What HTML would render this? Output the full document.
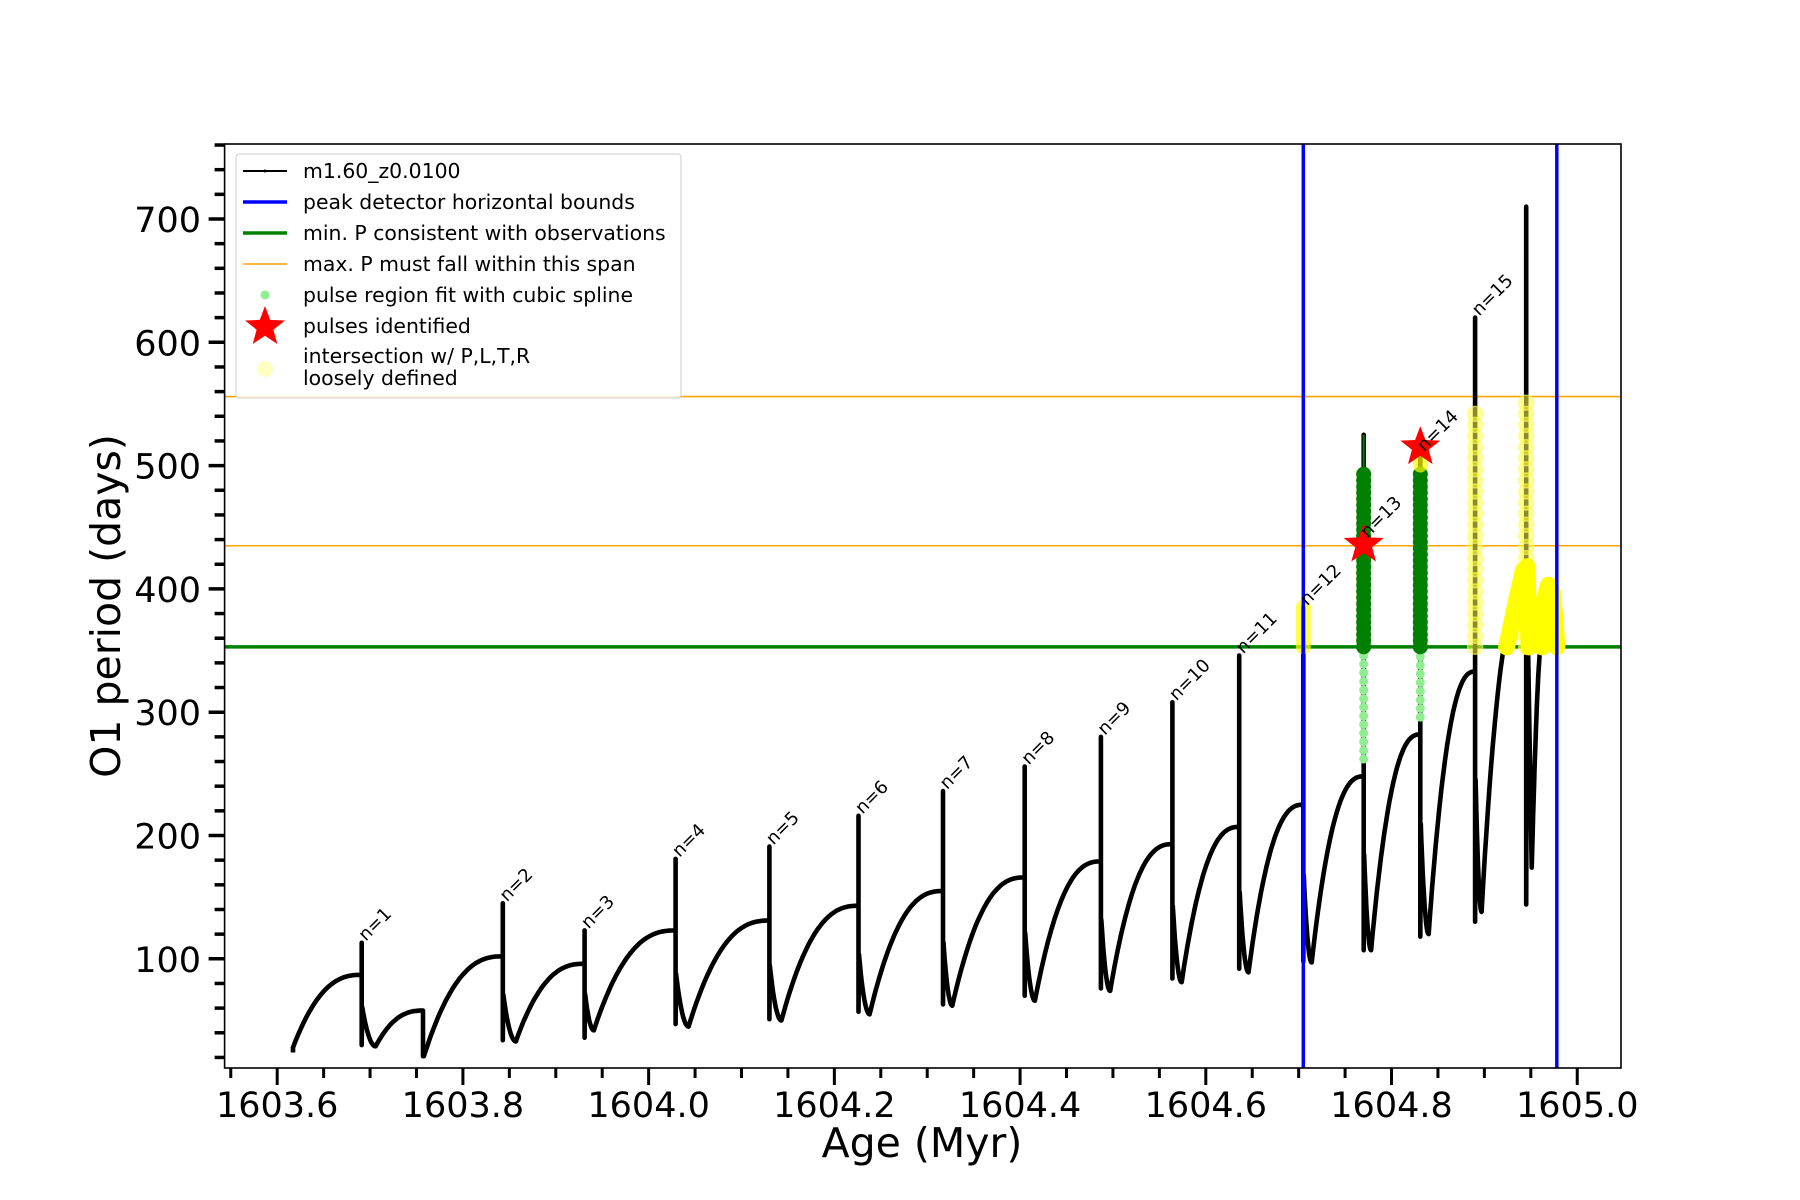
<!DOCTYPE html>
<html><head><meta charset="utf-8"><style>
html,body{margin:0;padding:0;background:#fff;}
svg{display:block;font-family:"DejaVu Sans","Liberation Sans",sans-serif;}
</style></head><body>
<svg id="chart" width="1800" height="1200" viewBox="0 0 1800 1200" xmlns="http://www.w3.org/2000/svg">
<rect x="0" y="0" width="1800" height="1200" fill="#fff"/>
<g id="plot"></g>
</svg>
<script>
// ---- data ----
const spikeAge = [1603.691,1603.757,1603.843,1603.931,1604.029,1604.130,1604.226,1604.317,1604.405,1604.487,1604.564,1604.636,1604.705,1604.770,1604.831,1604.890,1604.945];
const preP  = [87,58,102,96,123,131,143,155,166,179,193,207,225,248,282,333,400];
const peakP = [113,58,145,123,181,191,216,236,256,280,308,346,385,525,510,620,710];
const dropP = [30,21,34,36,47,51,57,63,70,76,84,92,98,107,118,130,144];
const minAge = [1603.706,1603.758,1603.857,1603.941,1604.043,1604.143,1604.238,1604.327,1604.416,1604.497,1604.574,1604.646,1604.714,1604.778,1604.840,1604.897,1604.951];
const minP  = [29,21,33,42,45,50,55,62,66,74,81,89,97,107,120,138,174];
const labelP = [113,58,145,123,181,191,216,236,256,280,308,346,385,440,510,620,710];
const startAge = 1603.617, startP = 28;
const endAge = 1604.961, endP = 355;
const pulseLabels = ["n=1","","n=2","n=3","n=4","n=5","n=6","n=7","n=8","n=9","n=10","n=11","n=12","n=13","n=14","n=15",""];
const boundAges = [1604.705,1604.978];
const minObsP = 353;
const maxSpanP = [435,556];
const starAge = [1604.770,1604.831];
const starP = [436,515];
const arc1Age = [1604.924,1604.935,1604.942,1604.946,1604.948];
const arc1P = [353,392,415,418,353];
const arc2Age = [1604.962,1604.965,1604.969,1604.973,1604.976,1604.978];
const arc2P = [353,392,403,398,375,353];
const greenPulseIdx = [13,14];
const greenTopP = [497,497];
const lightGreenBottomP = [262,296];
const yellowPulseIdx = [15,16];
const yellowTopP = [545,558];
const xTicks = ["1603.6","1603.8","1604.0","1604.2","1604.4","1604.6","1604.8","1605.0"];
const yTicks = ["100","200","300","400","500","600","700"];

// ---- axes ----
const L=224.6,R=1621,T=144,B=1068;
const X=v=>277.2+(v-1603.6)*928.6;
const Y=p=>219+(700-p)*1.233;
const NS="http://www.w3.org/2000/svg";
const plot=document.getElementById('plot');
function mk(tag,attrs,parent){const e=document.createElementNS(NS,tag);for(const k in attrs)e.setAttribute(k,attrs[k]);(parent||plot).appendChild(e);return e;}

const clip=mk('clipPath',{id:'clip'});mk('rect',{x:L,y:T,width:R-L,height:B-T},clip);
const data=mk('g',{'clip-path':'url(#clip)'});



maxSpanP.forEach(p=>{const l=mk('line',{x1:L,x2:R,y1:Y(p),y2:Y(p),stroke:'#ffa500','stroke-width':1.6},data);

});
const gl=mk('line',{x1:L,x2:R,y1:Y(minObsP),y2:Y(minObsP),stroke:'#008000','stroke-width':3.5},data);



// black curve
let pts=[[startAge,startP-4],[startAge,startP]];
let prevMinAge=startAge, prevMinP=startP;
for(let i=0;i<spikeAge.length;i++){
  const a0=prevMinAge,a1=spikeAge[i],p0=prevMinP,p1=preP[i];
  const N=40;
  for(let k=1;k<=N;k++){const t=k/N;pts.push([a0+(a1-a0)*t,p0+(p1-p0)*(1-Math.pow(1-t,2.5))]);}
  pts.push([a1,peakP[i]]);pts.push([a1,dropP[i]]);
  if(i===16){pts.push([a1+0.001,400]);pts.push([minAge[i],minP[i]]);}
  else if(i===1){pts.push([minAge[i],minP[i]]);}
  else{
    const postP=minP[i]+(preP[i]-minP[i])*0.55;
    pts.push([a1+0.0005,postP]);
    const M=12;const da=minAge[i]-a1-0.0005;
    for(let k=1;k<=M;k++){const t=k/M;pts.push([a1+0.0005+da*t,postP+(minP[i]-postP)*(1-Math.pow(1-t,2))]);}
  }
  prevMinAge=minAge[i];prevMinP=minP[i];
}
{const a0=prevMinAge,p0=prevMinP;const N=20;for(let k=1;k<=N;k++){const t=k/N;pts.push([a0+(endAge-a0)*t,p0+(endP-p0)*(1-Math.pow(1-t,1.6))]);}}
const curve=mk('polyline',{points:pts.map(q=>X(q[0]).toFixed(1)+','+Y(q[1]).toFixed(1)).join(' '),fill:'none',stroke:'#000','stroke-width':4.6,'stroke-linejoin':'round'},data);



const y12=mk('line',{x1:X(spikeAge[12]),x2:X(spikeAge[12]),y1:Y(minObsP),y2:Y(peakP[12]),stroke:'#ffff00','stroke-opacity':0.7,'stroke-width':15,'stroke-linecap':'round'},data);



yellowPulseIdx.forEach((idx,j)=>{
  for(let p=minObsP;p<=yellowTopP[j];p+=9){const c=mk('circle',{cx:X(spikeAge[idx]),cy:Y(p),r:7.5,fill:'#ffff44','fill-opacity':0.55,stroke:'#ffff66','stroke-opacity':0.6,'stroke-width':1.5},data);
  
  }
});
greenPulseIdx.forEach((idx,j)=>{
  const a=spikeAge[idx];
  if(j===0){const tl=mk('line',{x1:X(a),x2:X(a),y1:Y(minObsP),y2:Y(peakP[idx]),stroke:'#008000','stroke-width':2},data);
  
  }
  for(let p=lightGreenBottomP[j];p<minObsP;p+=7){const c=mk('circle',{cx:X(a),cy:Y(p),r:4.5,fill:'#90ee90'},data);
  
  }
  for(let p=minObsP;p<=greenTopP[j];p+=5){const c=mk('circle',{cx:X(a),cy:Y(p),r:7.5,fill:'#008000'},data);
  
  }
});
const ytop=mk('line',{x1:X(spikeAge[14]),x2:X(spikeAge[14]),y1:Y(greenTopP[1]+3),y2:Y(peakP[14]),stroke:'#ffff00','stroke-opacity':0.7,'stroke-width':14,'stroke-linecap':'round'},data);


[[arc1Age,arc1P],[arc2Age,arc2P]].forEach(([ag,pp])=>{
  const pl=mk('polyline',{points:ag.map((a,i)=>X(a).toFixed(1)+','+Y(pp[i]).toFixed(1)).join(' '),fill:'none',stroke:'#ffff00','stroke-width':17,'stroke-linejoin':'round','stroke-linecap':'round'},data);
  
  
});
function starPath(cx,cy,r){let d='';for(let i=0;i<10;i++){const rr=i%2?r*0.42:r;const a=-Math.PI/2+i*Math.PI/5;d+=(i?'L':'M')+(cx+rr*Math.cos(a)).toFixed(1)+','+(cy+rr*Math.sin(a)).toFixed(1);}return d+'Z';}
starAge.forEach((a,i)=>{const s=mk('path',{d:starPath(X(a),Y(starP[i]),21),fill:'#ff0000'},data);

});
boundAges.forEach(a=>{const l=mk('line',{x1:X(a),x2:X(a),y1:T,y2:B,stroke:'#0000ff','stroke-width':3.5},data);

});
pulseLabels.forEach((t,i)=>{if(!t)return;const x=X(spikeAge[i])+4,y=Y(labelP[i])-1;
const e=mk('text',{x:x,y:y,'font-size':18,fill:'#000',transform:`rotate(-45 ${x} ${y})`});e.textContent=t;

});

const fr=mk('rect',{x:L,y:T,width:R-L,height:B-T,fill:'none',stroke:'#000','stroke-width':1.6});



for(let k=0;k<=29;k++){const v=1603.55+k*0.05;const x=X(v);if(x<L-1||x>R)continue;const major=(k%4===1);
  mk('line',{x1:x,x2:x,y1:B,y2:B+(major?17:10),stroke:'#000','stroke-width':3});}
xTicks.forEach(t=>{const e=mk('text',{x:X(parseFloat(t)),y:1117,'font-size':35,'text-anchor':'middle',fill:'#000'});e.textContent=t;

});
for(let p=20;p<=760;p+=20){const y=Y(p);const major=p%100===0;mk('line',{x1:L,x2:L-(major?16:10),y1:y,y2:y,stroke:'#000','stroke-width':3.5});}
yTicks.forEach(t=>{const e=mk('text',{x:201,y:Y(+t)+13,'font-size':35,'text-anchor':'end',fill:'#000'});e.textContent=t;

});
const xl=mk('text',{x:922,y:1157,'font-size':41,'text-anchor':'middle',fill:'#000'});xl.textContent='Age (Myr)';


const yl=mk('text',{x:120,y:606,'font-size':41,'text-anchor':'middle',fill:'#000',transform:'rotate(-90 120 606)'});yl.textContent='O1 period (days)';



const lg=mk('g',{});


mk('rect',{x:236,y:154,width:445,height:244,rx:3,fill:'#fff','fill-opacity':0.85,stroke:'#ccc','stroke-width':1},lg);
const rows=[171,202,233,264,295,326];
const labels=['m1.60_z0.0100','peak detector horizontal bounds','min. P consistent with observations','max. P must fall within this span','pulse region fit with cubic spline','pulses identified'];
labels.forEach((t,i)=>{const e=mk('text',{x:303,y:rows[i]+7,'font-size':20.4,fill:'#000'},lg);e.textContent=t;

});
mk('line',{x1:243,x2:287,y1:171,y2:171,stroke:'#000','stroke-width':2},lg);mk('circle',{cx:265,cy:171,r:1.5,fill:'#000'},lg);
mk('line',{x1:243,x2:287,y1:202,y2:202,stroke:'#0000ff','stroke-width':3.5},lg);
mk('line',{x1:243,x2:287,y1:233,y2:233,stroke:'#008000','stroke-width':3.5},lg);
mk('line',{x1:243,x2:287,y1:264,y2:264,stroke:'#ffa500','stroke-width':1.6},lg);
mk('circle',{cx:265,cy:295,r:4.5,fill:'#90ee90'},lg);
mk('path',{d:starPath(265,327,21),fill:'#ff0000'},lg);
mk('circle',{cx:265,cy:369,r:8,fill:'#ffff66','fill-opacity':0.4},lg);
const t1=mk('text',{x:303,y:363,'font-size':20.4,fill:'#000'},lg);t1.textContent='intersection w/ P,L,T,R';


const t2=mk('text',{x:303,y:385,'font-size':20.4,fill:'#000'},lg);t2.textContent='loosely defined';


</script>
</body></html>
